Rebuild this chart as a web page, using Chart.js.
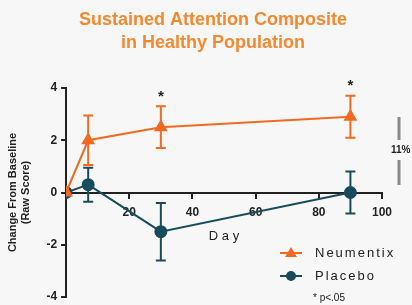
<!DOCTYPE html>
<html>
<head>
<meta charset="utf-8">
<script src="https://cdn.jsdelivr.net/npm/chart.js@4"></script>
<style>
    html, body { margin: 0; padding: 0; background: #f7f7f7; }
    #wrap { width: 412px; height: 305px; }
</style>
</head>
<body>
<div id="wrap"><canvas id="chart"></canvas></div>
<script>
// chart data
const days = [0, 7, 30, 90];
const neumentix = [0, 2.0, 2.5, 2.9];
const neumentixLow = [0, 1.05, 1.7, 2.1];
const neumentixHigh = [0, 2.95, 3.3, 3.7];
const placebo = [0, 0.3, -1.5, 0];
const placeboLow = [0, -0.35, -2.6, -0.8];
const placeboHigh = [0, 0.95, -0.4, 0.8];
const significant = [false, false, true, true];
const yTicks = [-4, -2, 0, 2, 4];
const titleLines = ['Sustained Attention Composite', 'in Healthy Population'];

const ORANGE = '#f26a22';
const TEAL = '#184c5c';
const INK = '#222222';
const FONT = '"Liberation Sans", Arial, sans-serif';

// Error bars + significance stars
const errorBarPlugin = {
    id: 'errorBars',
    afterDatasetsDraw(chart) {
        const ctx = chart.ctx;
        const x = chart.scales.x;
        const y = chart.scales.y;
        chart.data.datasets.forEach(ds => {
            ctx.save();
            ctx.strokeStyle = ds.borderColor;
            ctx.lineWidth = 2;
            ds.low.forEach((lo, i) => {
                const hi = ds.high[i];
                if (lo === hi) return;
                const px = x.getPixelForValue(days[i]);
                const y1 = y.getPixelForValue(lo);
                const y2 = y.getPixelForValue(hi);
                ctx.beginPath();
                ctx.moveTo(px, y1); ctx.lineTo(px, y2);
                ctx.moveTo(px - 5, y1); ctx.lineTo(px + 5, y1);
                ctx.moveTo(px - 5, y2); ctx.lineTo(px + 5, y2);
                ctx.stroke();
            });
            ctx.restore();
        });
        // stars above the Neumentix bars
        ctx.save();
        ctx.fillStyle = INK;
        ctx.font = 'bold 15px ' + FONT;
        ctx.textAlign = 'center';
        ctx.textBaseline = 'bottom';
        significant.forEach((s, i) => {
            if (!s) return;
            ctx.fillText('*', x.getPixelForValue(days[i]), y.getPixelForValue(neumentixHigh[i]) - 2);
        });
        ctx.restore();
    }
};

// Title, legend, footnote and the 11% bracket
const extrasPlugin = {
    id: 'extras',
    afterDraw(chart) {
        const ctx = chart.ctx;
        ctx.save();
        ctx.fillStyle = '#f5892f';
        ctx.font = 'bold 18px ' + FONT;
        ctx.textAlign = 'center';
        ctx.textBaseline = 'middle';
        ctx.fillText(titleLines[0], 213, 20);
        ctx.fillText(titleLines[1], 213, 43);

        ctx.font = '13px ' + FONT;
        ctx.textAlign = 'left';
        if ('letterSpacing' in ctx) ctx.letterSpacing = '2px';
        const rows = [253, 276];
        chart.data.datasets.forEach((ds, i) => {
            const ry = rows[i];
            ctx.strokeStyle = ds.borderColor;
            ctx.fillStyle = ds.borderColor;
            ctx.lineWidth = 2;
            ctx.beginPath();
            ctx.moveTo(280, ry); ctx.lineTo(302, ry);
            ctx.stroke();
            ctx.beginPath();
            if (ds.pointStyle === 'triangle') {
                ctx.moveTo(291, ry - 6); ctx.lineTo(297, ry + 4); ctx.lineTo(285, ry + 4);
            } else {
                ctx.arc(291, ry, 5, 0, Math.PI * 2);
            }
            ctx.closePath();
            ctx.fill();
            ctx.fillStyle = INK;
            ctx.fillText(ds.label, 315, ry);
        });
        if ('letterSpacing' in ctx) ctx.letterSpacing = '0px';
        ctx.font = '10px ' + FONT;
        ctx.fillText('* p<.05', 313, 298);

        // 11% bracket
        ctx.strokeStyle = '#8a8a8a';
        ctx.lineWidth = 3;
        ctx.beginPath();
        ctx.moveTo(399, 117); ctx.lineTo(399, 140);
        ctx.moveTo(399, 160); ctx.lineTo(399, 185);
        ctx.stroke();
        ctx.fillStyle = INK;
        ctx.font = 'bold 10px ' + FONT;
        ctx.fillText('11%', 391, 150);
        ctx.restore();
    }
};

const pointsOf = vals => vals.map((v, i) => ({ x: days[i], y: v }));

new Chart(document.getElementById('chart'), {
    type: 'line',
    data: {
        datasets: [{
            label: 'Neumentix',
            data: pointsOf(neumentix),
            low: neumentixLow,
            high: neumentixHigh,
            borderColor: ORANGE,
            backgroundColor: ORANGE,
            borderWidth: 2,
            pointStyle: 'triangle',
            pointRadius: 6,
            tension: 0
        }, {
            label: 'Placebo',
            data: pointsOf(placebo),
            low: placeboLow,
            high: placeboHigh,
            borderColor: TEAL,
            backgroundColor: TEAL,
            borderWidth: 2,
            pointStyle: 'circle',
            pointRadius: 5.5,
            tension: 0
        }]
    },
    options: {
        responsive: true,
        maintainAspectRatio: false,
        animation: false,
        layout: { padding: { left: 2, right: 30, top: 88, bottom: 8 } },
        plugins: {
            legend: { display: false },
            tooltip: { enabled: false },
            title: { display: false }
        },
        scales: {
            x: {
                type: 'linear',
                position: { y: 0 },
                min: 0,
                max: 100,
                ticks: {
                    stepSize: 20,
                    color: INK,
                    padding: 8,
                    font: { family: FONT, size: 12, weight: 'bold' },
                    callback: v => v === 0 ? '' : v
                },
                grid: { drawOnChartArea: false, drawTicks: true, tickLength: 5, color: INK, lineWidth: 2 },
                border: { display: true, color: INK, width: 2 },
                title: {
                    display: true,
                    text: 'D a y',
                    color: INK,
                    font: { family: FONT, size: 13 },
                    padding: { top: 1 }
                }
            },
            y: {
                min: -4,
                max: 4,
                afterBuildTicks: axis => { axis.ticks = yTicks.map(v => ({ value: v })); },
                afterFit: axis => { axis.paddingBottom = 0; axis.paddingTop = 0; },
                ticks: {
                    color: INK,
                    font: { family: FONT, size: 12, weight: 'bold' },
                    padding: 4
                },
                grid: { drawOnChartArea: false, drawTicks: true, tickLength: 5, color: INK, lineWidth: 2 },
                border: { display: true, color: INK, width: 2 },
                title: {
                    display: true,
                    text: ['Change From Baseline', '(Raw Score)'],
                    color: INK,
                    font: { family: FONT, size: 11, weight: 'bold' },
                    padding: { bottom: 10 },
                    lineHeight: 1.05
                }
            }
        }
    },
    plugins: [errorBarPlugin, extrasPlugin]
});
</script>
</body>
</html>
